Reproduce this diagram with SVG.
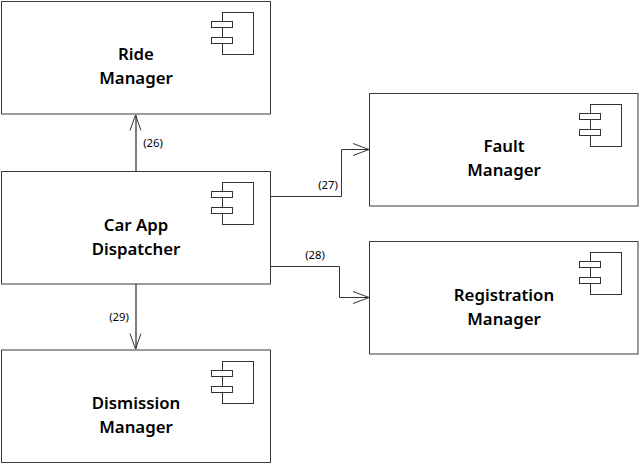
<svg xmlns="http://www.w3.org/2000/svg" width="640" height="464" viewBox="0 0 640 464">
<style>
.box{fill:#fff;stroke:#3a3a3a;stroke-width:1}
.body{fill:#fff;stroke:#333;stroke-width:1}
.port{fill:#fff;stroke:#333;stroke-width:1}
.name{font-family:"Noto Sans","Open Sans","Liberation Sans",sans-serif;font-weight:600;font-size:16.8px;fill:#000;text-anchor:middle}
.lab{font-family:"Noto Sans","Open Sans","Liberation Sans",sans-serif;font-size:11.3px;fill:#000;text-anchor:middle}
.line{fill:none;stroke:#333;stroke-width:1}
.thick{fill:none;stroke:#555;stroke-width:1.500}
</style>
<defs>
<g id="icon">
<rect class="body" x="222.500" y="12.500" width="31" height="42"/>
<rect class="port" x="211.500" y="21.500" width="21" height="6"/>
<rect class="port" x="211.500" y="37.500" width="21" height="6"/>
</g>
</defs>
<rect width="640" height="464" fill="#fff"/>
<g id="connectors">
<path class="thick" d="M136 171V115"/><path class="line" d="M130 130.500L135.500 115L141 130.500"/>
<path class="line" d="M270 196.500H341.500V149.500H369"/><path class="line" d="M353 143.500L369 149.500L353 155.500"/>
<path class="line" d="M270 266.500H339.500V297.500H369"/><path class="line" d="M353 291.500L369 297.500L353 303.500"/>
<path class="thick" d="M136 284V349"/><path class="line" d="M130 333.500L135.500 349L141 333.500"/>
<text class="lab" x="153" y="147">(26)</text>
<text class="lab" x="328" y="189">(27)</text>
<text class="lab" x="315" y="259">(28)</text>
<text class="lab" x="119" y="321">(29)</text>
</g>
<g id="ride">
<rect class="box" x="1.500" y="1.500" width="269" height="112.500"/>
<use href="#icon"/>
<text class="name" x="136" y="60">Ride</text><text class="name" x="136" y="84">Manager</text>
</g>
<g id="dispatcher">
<rect class="box" x="1.500" y="171.500" width="269" height="112.500"/>
<use href="#icon" y="170"/>
<text class="name" x="136" y="231">Car App</text><text class="name" x="136" y="255">Dispatcher</text>
</g>
<g id="dismission">
<rect class="box" x="1.500" y="350" width="269" height="112.500"/>
<use href="#icon" y="349"/>
<text class="name" x="136" y="409">Dismission</text><text class="name" x="136" y="433">Manager</text>
</g>
<g id="fault">
<rect class="box" x="369.500" y="93.500" width="268.500" height="112.500"/>
<use href="#icon" x="368" y="92"/>
<text class="name" x="504" y="152">Fault</text><text class="name" x="504" y="176">Manager</text>
</g>
<g id="registration">
<rect class="box" x="369.500" y="241.500" width="268.500" height="112.500"/>
<use href="#icon" x="368" y="240"/>
<text class="name" x="504" y="301">Registration</text><text class="name" x="504" y="325">Manager</text>
</g>
</svg>
